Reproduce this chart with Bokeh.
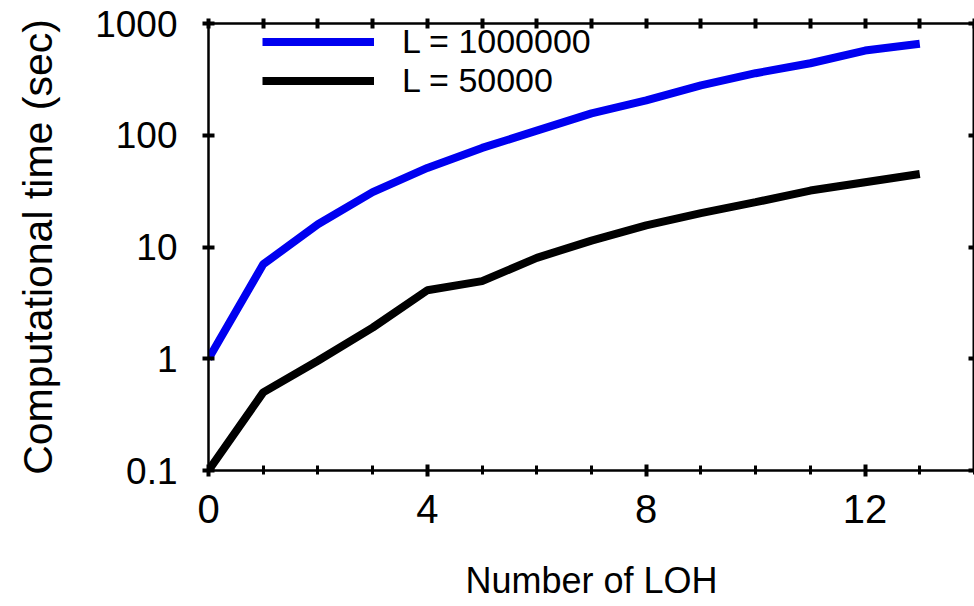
from bokeh.plotting import figure
from bokeh.models import (ColumnDataSource, Legend, LegendItem, LinearAxis, LogAxis,
                          FixedTicker, CustomJSTickFormatter, Range1d)
from bokeh.embed import file_html
from bokeh.resources import INLINE

# Number of LOH regions
n_loh = [0, 1, 2, 3, 4, 5, 6, 7, 8, 9, 10, 11, 12, 13]
# Computational time (sec) for each sequence length
time_l_1000000 = [1, 7, 16, 31, 51, 77, 110, 157, 205, 279, 359, 441, 573, 658]
time_l_50000 = [0.1, 0.5, 0.96, 1.9, 4.1, 4.95, 8.0, 11.4, 15.6, 20.1, 25.2, 32, 38, 45]

series_labels = ["L = 1000000", "L = 50000"]
x_major_ticks = [0, 4, 8, 12]
x_minor_ticks = list(range(0, 15))
y_ticks = [0.1, 1, 10, 100, 1000]

FONT = "Liberation Sans"

src = ColumnDataSource(dict(x=n_loh, big=time_l_1000000, small=time_l_50000))

p = figure(width=974, height=606, y_axis_type="log",
           x_range=Range1d(0, 14), y_range=Range1d(0.1, 1000),
           output_backend="svg", toolbar_location=None,
           min_border_left=208, min_border_right=0,
           min_border_top=23, min_border_bottom=136)
p.grid.visible = False
p.outline_line_color = "black"
p.outline_line_width = 2

r_big = p.line("x", "big", source=src, line_color="#0000f0", line_width=8)
r_small = p.line("x", "small", source=src, line_color="black", line_width=8)

y_fmt = CustomJSTickFormatter(code="return tick < 1 ? tick.toFixed(1) : tick.toFixed(0);")


def tick_style(ax):
    ax.axis_line_width = 2
    ax.major_tick_in = 6
    ax.major_tick_out = 6
    ax.major_tick_line_width = 4
    ax.minor_tick_in = 5
    ax.minor_tick_out = 4
    ax.minor_tick_line_width = 3


# bottom axis: labelled majors every 4, minors every 1
xa = p.xaxis[0]
xa.ticker = FixedTicker(ticks=x_major_ticks, minor_ticks=x_minor_ticks)
tick_style(xa)
xa.major_label_text_font = FONT
xa.major_label_text_font_size = "40px"
xa.major_label_text_color = "black"
xa.major_label_standoff = 18
xa.axis_label = "Number of LOH"
xa.axis_label_text_font = FONT
xa.axis_label_text_font_size = "36px"
xa.axis_label_text_font_style = "normal"
xa.axis_label_text_color = "black"
xa.axis_label_standoff = 34

# left axis: one labelled tick per decade
ya = p.yaxis[0]
ya.ticker = FixedTicker(ticks=y_ticks, minor_ticks=[])
ya.formatter = y_fmt
tick_style(ya)
ya.major_label_text_font = FONT
ya.major_label_text_font_size = "37px"
ya.major_label_text_color = "black"
ya.major_label_standoff = 25
ya.axis_label = "Computational time (sec)"
ya.axis_label_text_font = FONT
ya.axis_label_text_font_size = "41px"
ya.axis_label_text_font_style = "normal"
ya.axis_label_text_color = "black"
ya.axis_label_standoff = 31

# mirrored tick marks on top and right, without labels
top_ax = LinearAxis(ticker=FixedTicker(ticks=[], minor_ticks=x_minor_ticks))
tick_style(top_ax)
top_ax.minor_tick_in = 5
top_ax.minor_tick_out = 5
top_ax.minor_tick_line_width = 4
p.add_layout(top_ax, "above")

right_ax = LogAxis(ticker=FixedTicker(ticks=[], minor_ticks=y_ticks))
tick_style(right_ax)
right_ax.minor_tick_in = 6
right_ax.minor_tick_out = 0
right_ax.minor_tick_line_width = 4
p.add_layout(right_ax, "right")

legend = Legend(items=[LegendItem(label=series_labels[0], renderers=[r_big]),
                       LegendItem(label=series_labels[1], renderers=[r_small])],
                location=(54, 370), orientation="vertical",
                glyph_width=112, glyph_height=37, label_height=37,
                label_standoff=28, spacing=0, padding=0, margin=0,
                border_line_color=None, background_fill_alpha=0,
                label_text_font=FONT, label_text_font_size="34px",
                label_text_color="black")
p.add_layout(legend)

open("out.html", "w").write(file_html(p, INLINE))
